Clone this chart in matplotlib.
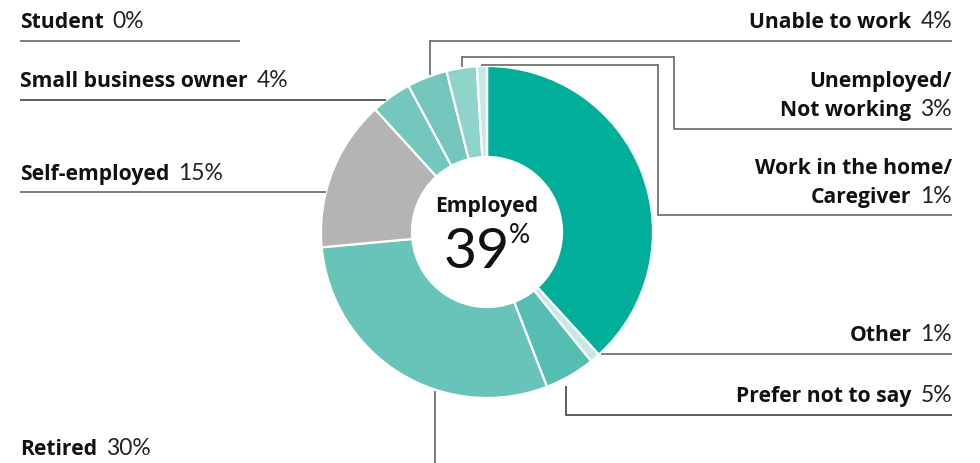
import numpy as np
import matplotlib
matplotlib.use('Agg')
import matplotlib.pyplot as plt

W, H = 980, 463

# Employment status shares (%), clockwise from 12 o'clock
categories = ['Employed', 'Other', 'Prefer not to say', 'Retired', 'Self-employed',
              'Small business owner', 'Unable to work', 'Unemployed/\nNot working',
              'Work in the home/\nCaregiver', 'Student']
values = [39, 1, 5, 30, 15, 4, 4, 3, 1, 0]
colors = ['#00AE9A', '#C5E8E4', '#55BDB1', '#68C4B9', '#B4B4B4',
          '#74C7BD', '#74C6BD', '#8ED4CB', '#C5E8E4', '#C5E8E4']

CX, CY, R, R_IN = 487, 232, 166, 75
LINE = '#5a5a5a'
BOLD = 'Open Sans'
THIN = 'Lato'
FS = 15.2

fig = plt.figure(figsize=(W / 100, H / 100), dpi=100)
ax = fig.add_axes([0, 0, 1, 1])


def y(p):
    # pixel-style y (from top) to data y
    return H - p


ax.pie(values, colors=colors, startangle=90, counterclock=False,
       radius=R, center=(CX, y(CY)),
       wedgeprops=dict(width=R - R_IN, edgecolor='white', linewidth=1.6))

ax.set_xlim(0, W)
ax.set_ylim(0, H)
ax.set_aspect('equal')
ax.axis('off')


def ring_x(py, side):
    return CX + side * np.sqrt(R ** 2 - (py - CY) ** 2)


def ring_y(px, side):
    return CY + side * np.sqrt(R ** 2 - (px - CX) ** 2)


def path(pts, color=LINE):
    xs = [p[0] for p in pts]
    ys = [y(p[1]) for p in pts]
    ax.plot(xs, ys, color=color, lw=1.1, solid_capstyle='butt', solid_joinstyle='miter')


def label(x, py, name, val, ha):
    vals = f'{val}%'
    lines = name.split('\n')
    if ha == 'left':
        t = ax.text(x, y(py), lines[-1], fontsize=FS, fontweight='bold', family=BOLD,
                    ha='left', va='baseline', color='#111')
        fig.canvas.draw()
        bb = t.get_window_extent()
        ax.text(bb.x1 + 9, y(py), vals, fontsize=FS + 1.3, family=THIN,
                ha='left', va='baseline', color='#222')
    else:
        t = ax.text(x, y(py), vals, fontsize=FS + 1.3, family=THIN,
                    ha='right', va='baseline', color='#222')
        fig.canvas.draw()
        bb = t.get_window_extent()
        ax.text(bb.x0 - 9, y(py), lines[-1], fontsize=FS, fontweight='bold', family=BOLD,
                ha='right', va='baseline', color='#111')
        for i, ln in enumerate(lines[:-1][::-1]):
            ax.text(x, y(py - 29 * (i + 1)), ln, fontsize=FS, fontweight='bold',
                    family=BOLD, ha='right', va='baseline', color='#111')


# left-hand labels
label(20, 28, categories[9], values[9], 'left')
path([(20, 41), (240, 41)])
label(20, 87, categories[5], values[5], 'left')
path([(20, 100), (ring_x(100, -1), 100)], '#333')
label(20, 180, categories[4], values[4], 'left')
path([(20, 192), (ring_x(192, -1), 192)])
label(20, 455, categories[3], values[3], 'left')
path([(435, ring_y(435, 1) + 1), (435, H)])

# right-hand labels
RX = 952
label(RX, 28, categories[6], values[6], 'right')
path([(430, ring_y(430, -1) - 1), (430, 41), (RX, 41)])
label(RX, 116, categories[7], values[7], 'right')
path([(462, ring_y(462, -1) - 1), (462, 57), (674, 57), (674, 129), (RX, 129)])
label(RX, 203, categories[8], values[8], 'right')
path([(481, ring_y(481, -1) - 1), (481, 65), (658, 65), (658, 215), (RX, 215)])
label(RX, 341, categories[1], values[1], 'right')
path([(ring_x(354, 1) + 1, 354), (RX, 354)])
label(RX, 402, categories[2], values[2], 'right')
path([(566, ring_y(566, 1) + 8), (566, 415), (RX, 415)], '#333')

# centre annotation
ax.text(CX, y(212), categories[0], fontsize=FS, fontweight='bold', family=BOLD,
        ha='center', va='baseline', color='#111')
big = ax.text(CX - 10, y(268), f'{values[0]}', fontsize=41, family=THIN,
              ha='center', va='baseline', color='#111')
fig.canvas.draw()
bb = big.get_window_extent()
ax.text(bb.x1 - 1, y(243), '%', fontsize=19, family=THIN,
        ha='left', va='baseline', color='#111')

fig.savefig('out.png', dpi=100)
